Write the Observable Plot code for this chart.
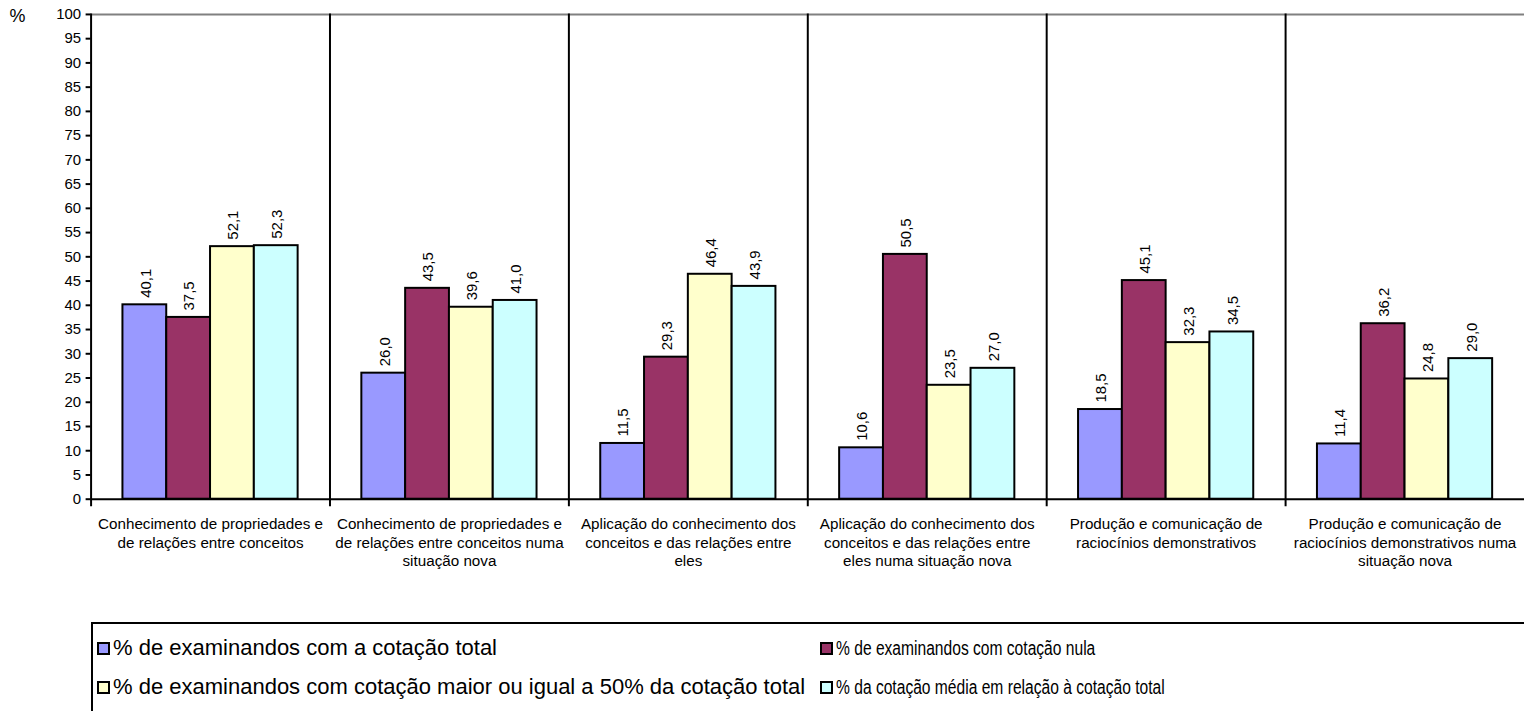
<!DOCTYPE html>
<html>
<head>
<meta charset="utf-8">
<script src="https://cdn.jsdelivr.net/npm/d3@7"></script>
<script src="https://cdn.jsdelivr.net/npm/@observablehq/plot@0.6"></script>
<style>
  html, body { margin: 0; padding: 0; background: #fff; overflow: hidden; }
  body { width: 1524px; height: 711px; position: relative; font-family: "Liberation Sans", Arial, sans-serif; }
  #chart svg { display: block; }
  #legend { position: absolute; left: 91px; top: 622px; width: 1500px; height: 130px; border: 2px solid #000; box-sizing: border-box; }
  .item { position: absolute; display: flex; align-items: center; white-space: nowrap; height: 24px; }
  .sw { width: 9px; height: 9px; border: 2px solid #000; margin-right: 3px; flex: none; }
  .lab { display: inline-block; transform-origin: left center; color: #000; }
</style>
</head>
<body>
<div id="chart"></div>
<div id="legend"></div>
<script>
const categories = [
  "Conhecimento de propriedades e\nde relações entre conceitos",
  "Conhecimento de propriedades e\nde relações entre conceitos numa\nsituação nova",
  "Aplicação do conhecimento dos\nconceitos e das relações entre\neles",
  "Aplicação do conhecimento dos\nconceitos e das relações entre\neles numa situação nova",
  "Produção e comunicação de\nraciocínios demonstrativos",
  "Produção e comunicação de\nraciocínios demonstrativos numa\nsituação nova"
];
const series = [
  "% de examinandos com a cotação total",
  "% de examinandos com cotação nula",
  "% de examinandos com cotação maior ou igual a 50% da cotação total",
  "% da cotação média em relação à cotação total"
];
const colors = ["#9999FF", "#993366", "#FFFFCC", "#CCFFFF"];
const cotacaoTotal   = [40.1, 26.0, 11.5, 10.6, 18.5, 11.4];
const cotacaoNula    = [37.5, 43.5, 29.3, 50.5, 45.1, 36.2];
const cotacaoMaior50 = [52.1, 39.6, 46.4, 23.5, 32.3, 24.8];
const cotacaoMedia   = [52.3, 41.0, 43.9, 27.0, 34.5, 29.0];
const yTicks = [0, 5, 10, 15, 20, 25, 30, 35, 40, 45, 50, 55, 60, 65, 70, 75, 80, 85, 90, 95, 100];
const yLabel = "%";

const seriesValues = [cotacaoTotal, cotacaoNula, cotacaoMaior50, cotacaoMedia];
const data = [];
categories.forEach((c, i) => {
  series.forEach((s, j) => data.push({category: c, series: s, value: seriesValues[j][i]}));
});
const fmt = v => v.toFixed(1).replace(".", ",");

const chart = Plot.plot({
  width: 1531,
  height: 601,
  marginLeft: 91,
  marginRight: 0,
  marginTop: 14,
  marginBottom: 100,
  style: {fontFamily: "'Liberation Sans', Arial, sans-serif", fontSize: "15px", color: "#000", background: "#fff"},
  fx: {domain: categories, padding: 0, label: null},
  x: {domain: series, paddingInner: 0, paddingOuter: 0.72, axis: null},
  y: {domain: [0, 100], axis: null},
  color: {domain: series, range: colors},
  marks: [
    Plot.ruleY([100], {stroke: "#808080", strokeWidth: 2}),
    Plot.barY(data, {fx: "category", x: "series", y: "value", fill: "series", stroke: "#000", strokeWidth: 2}),
    Plot.text(data, {fx: "category", x: "series", y: "value", text: d => fmt(d.value), rotate: -90, textAnchor: "start", dy: -7, dx: 1, fontSize: 15, fill: "#000"}),
    Plot.frame({anchor: "left", stroke: "#000", strokeWidth: 2, insetBottom: -6}),
    Plot.ruleY([0], {stroke: "#000", strokeWidth: 2}),
    Plot.axisY({ticks: yTicks, tickSize: 5, tickPadding: 5, strokeWidth: 2, fontSize: 15, label: null, tickFormat: d => String(d)}),
    Plot.text([yLabel], {fx: () => categories[0], text: d => d, frameAnchor: "top-left", dx: -82, dy: -5, textAnchor: "start", fontSize: 18, fill: "#000"}),
    Plot.axisFx({anchor: "bottom", tickSize: 0, tickPadding: 17, fontSize: 15.3, lineHeight: 1.22, label: null})
  ]
});
document.getElementById("chart").appendChild(chart);

// Legend (HTML, below the SVG)
const legend = document.getElementById("legend");
const pos = [
  {left: 4, top: 12, size: 22, sx: 1},
  {left: 727, top: 12, size: 20, sx: 0.78},
  {left: 4, top: 51, size: 22, sx: 1},
  {left: 727, top: 51, size: 20, sx: 0.78}
];
series.forEach((s, i) => {
  const it = document.createElement("div");
  it.className = "item";
  it.style.left = pos[i].left + "px";
  it.style.top = pos[i].top + "px";
  const sw = document.createElement("span");
  sw.className = "sw";
  sw.style.background = colors[i];
  const lab = document.createElement("span");
  lab.className = "lab";
  lab.textContent = s;
  lab.style.fontSize = pos[i].size + "px";
  lab.style.transform = `scaleX(${pos[i].sx})`;
  it.appendChild(sw);
  it.appendChild(lab);
  legend.appendChild(it);
});
</script>
</body>
</html>
